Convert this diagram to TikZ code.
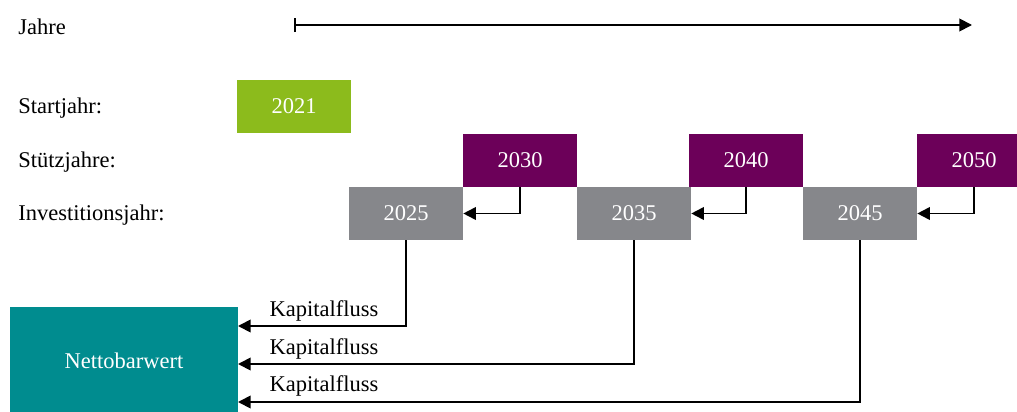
\documentclass[tikz,border=0pt]{standalone}
\usepackage{fontspec}
\setmainfont{Liberation Serif}
\usepackage{tikz}
\usetikzlibrary{positioning,arrows.meta}
\definecolor{jgreen}{HTML}{8CBB1C}
\definecolor{jpurple}{HTML}{6C0059}
\definecolor{jgrey}{HTML}{86878B}
\definecolor{jteal}{HTML}{008C8F}

\begin{document}
\begin{tikzpicture}[x=0.025cm, y=-0.025cm,
    every node/.style={font=\fontsize{16}{19}\selectfont},
    rowlabel/.style={anchor=west, inner sep=0pt},
    yearbox/.style={minimum width=2.85cm, minimum height=1.325cm, inner sep=0pt, text=white},
    flow/.style={line width=1.3pt, -{Triangle[length=9pt,width=9pt]}}]
  \clip (0,0) rectangle (1017,412);
  % Zeitachse
  \node[rowlabel] (jahre) at (18,27) {Jahre};
  \coordinate (tstart) at (294,25);
  \coordinate (tend) at (972,25);
  \draw[line width=1.3pt, {Bar[width=10pt]}-{Triangle[length=9pt,width=9pt]}] (tstart) -- (tend);
  % Zeilen
  \node[rowlabel] (lstart) at (18,108) {Startjahr:};
  \node[rowlabel] (lstuetz) at (18,162) {Stützjahre:};
  \node[rowlabel] (linv) at (18,215) {Investitionsjahr:};
  % Jahre
  \node[yearbox, fill=jgreen] (y2021) at (294,106.5) {2021};
  \node[yearbox, fill=jpurple] (p2030) at (520,160.5) {2030};
  \node[yearbox, fill=jpurple] (p2040) at (746,160.5) {2040};
  \node[yearbox, fill=jpurple] (p2050) at (974,160.5) {2050};
  \node[yearbox, fill=jgrey] (i2025) at (406,213.5) {2025};
  \node[yearbox, fill=jgrey] (i2035) at (634,213.5) {2035};
  \node[yearbox, fill=jgrey] (i2045) at (860,213.5) {2045};
  % Stuetzjahr -> Investitionsjahr
  \draw[flow] (p2030.south) |- (i2025.east);
  \draw[flow] (p2040.south) |- (i2035.east);
  \draw[flow] (p2050.south) |- (i2045.east);
  % Nettobarwert
  \node[minimum width=5.7cm, minimum height=2.7cm, inner sep=0pt, fill=jteal, text=white]
    (npv) at (124,361) {Nettobarwert};
  \coordinate (k1) at (238,326);
  \coordinate (k2) at (238,364);
  \coordinate (k3) at (238,402);
  \draw[flow] (i2025.south) |- (k1);
  \draw[flow] (i2035.south) |- (k2);
  \draw[flow] (i2045.south) |- (k3);
  \node[anchor=south west, inner sep=1pt] (f1) at (268,323) {Kapitalfluss};
  \node[anchor=south west, inner sep=1pt] (f2) at (268,361) {Kapitalfluss};
  \node[anchor=south west, inner sep=1pt] (f3) at (268,398) {Kapitalfluss};
\end{tikzpicture}
\end{document}
